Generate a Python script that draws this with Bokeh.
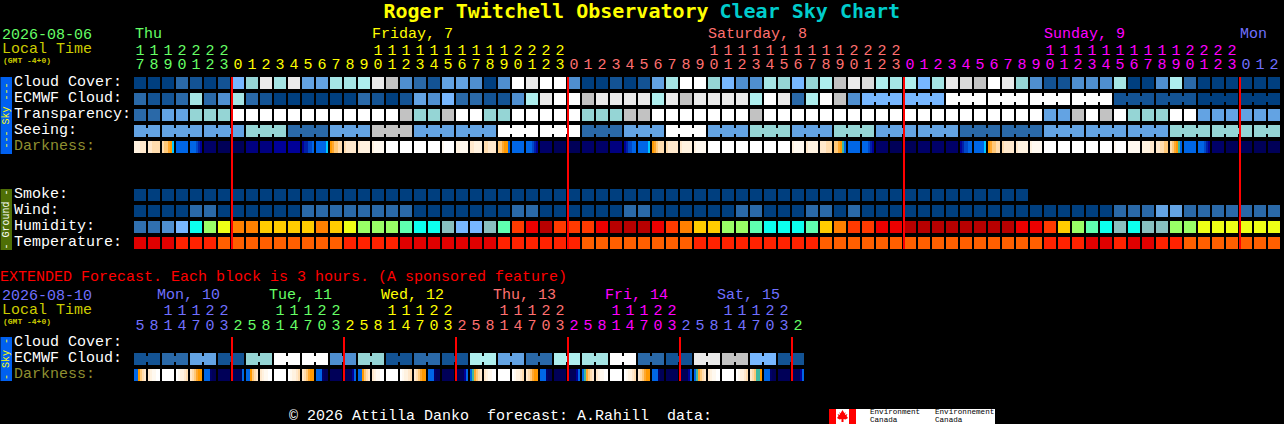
from bokeh.plotting import figure
from bokeh.models import ColumnDataSource
from bokeh.core.properties import value
from bokeh.embed import file_html
from bokeh.resources import INLINE
import math

# ---------- palettes ----------
CLOUD = ["#003f7f", "#135394", "#2a69a8", "#4f8fd0", "#63a3e3", "#77b7ff", "#95d5d5",
         "#a5e5e5", "#aeeeee", "#c2c2c2", "#dadada", "#eaeaea", "#ffffff"]
HUM = {"a": "#3070b0", "b": "#4f8fd0", "c": "#77b7ff", "t": "#88bfbf", "m": "#5fffb0", "y": "#0cffee",
       "l": "#99ff66", "g": "#eeff16", "o": "#ffcc00", "n": "#ff8000", "r": "#ff3a00", "e": "#ec0000",
       "d": "#b80000"}
TEMP = {"d": "#e00000", "r": "#ff2200", "o": "#ff5f00"}
WIND = ["#003f7f", "#2a69a8", "#63a3e3"]
DARK = {"W": "#ffffff", "A": "#fff9f0", "B": "#fff2e0", "C": "#ffe8cc", "D": "#ffdcae", "E": "#ffc878",
        "F": "#ffa82e", "G": "#ff9900", "H": "#00c8ff", "I": "#0066e6", "J": "#0048c8", "K": "#0020a8",
        "L": "#000098", "M": "#000080", "N": "#000068", "O": "#000058", "T": "#3fb8a0"}

# ---------- hourly forecast values (palette indices) ----------
cloud_cover = [0,0,0,2,1,0,1, 5,6,11,7,11,4,4,7,7,8,11,9,3,2,
               1,4,4,3,0,3,12,11,12,12, 3,0,0,1,0,1,4,7,12,12,6,5,3,3,7,6,5,6,8,9,11,
               10,8,7,8,5,7,11,10,9,12,11,6,3,1,1,3,3,3,7,0,0,3,8,2,0,0,0,0,0,0]
ecmwf_hourly = [2,1,1,2,7,2,3,7,2,1,0,0,0,0,0,0,2,1,0,1,4,
                3,5,2,2,1,1,3,8,11,12,12,9,11,11,11,11,8,11,9,11,11,11,11,8,12,11,2,8,12,9,3]
ecmwf_3h = [5,5,12,12,12,12,1,1,0,0]
transparency = [2,2,4,4,6,6,6,12,12,12,12,12,12,12,12,12,12,12,12,9,6,
                6,9,12,12,6,6,12,12,12,12,12,6,6,6,9,9,12,12,12,12,12,12,12,9,12,12,12,12,12,12,12,
                12,12,12,12,12,12,12,12,12,12,12,12,12,4,4,9,12,9,12,6,6,6,12,12,4,4,4,4,4,4]
seeing_blocks = [4,4,4,6,2,4,9,4,4,12,12,2,4,12,4,6,4,6,4,4,2,2,4,4,4,6,6,6]
seeing_sizes = [2,3,3,3,3,3,3,3,3,3,3,3,3,3,3,3,3,3,3,3,3,3,3,3,3,3,3,2]
darkness = ["BBBCCC","CCDDDD","DEEFGH","I","IIIJKL","N","O","O","M","M","L","L","LKKJJI","IIIIIH",
            "GFEEDD","DCCCCC","CBBBBB","BAAAAA","W","W","W","W","AWWWWW","BBAAAA","CCBBBB","DDCCCC",
            "EEFGGI","I","IIIJKL","N","O","O","N","N","M","LKJJII","IIIIIH","GFEDDD","DCCCCC","CBBBBB",
            "BAAAAA","W","W","W","W","W","W","BAAAAA","CBBBBB","CCCDDD","EEFGTI",
            "I","IIIJKL","N","O","O","N","N","N","LKJJII","IIIIIH","GFEEDD","DCCCCC","CBBBBB","BAAAAA",
            "W","W","W","W","W","AWWWWW","AAAAAA","BBBBCC","CCDDEE","DEFGTI","I","IIIJKL","N","O","O","O","O"]
smoke = [0]*64
wind = [0,0,0,0,1,1,0,0,0,0,0,0,1,1,1,1,1,1,1,1,0,0,
        0,0,0,0,0,1,1,0,0,0,0,0,0,1,1,0,0,0,0,0,0,1,1,0,0,0,1,1,0,1,
        0,0,0,0,0,0,0,0,0,0,0,0,0,0,0,0,0,0,1,1,1,2,2,1,1,1,1,1,1,1]
humidity = list("aabcylgnnoooonoglllmy" "ytcctmredrrreddderno" "ollmyyymonr"
                "reeddddddddeer" "olmytytt" "llgggggg")
temperature = list("dddrrrooooooooorrrrdd" "ddddd" "rrrrrr" "oooooooo" "rrrrrrrrr" "ooo"
                   "ooooooooooooo" "rrrddrddrr" "ooooooo")

# ---------- extended forecast values ----------
ext_ecmwf = [1,2,4,1,6,12,12,3,6,1,2,1,8,4,2,8,7,12,2,1,11,9,5,1]
ext_dark = ["IIGEDC","CBAAWW","W","WABBCD","CDEFGG","IIINOO","O","OOOOOI",
            "IIGEDC","CBAAWW","W","WABBCD","CDEFGG","IIINOO","O","OOOOLI",
            "IIGEDC","CBAAWW","W","WABBCD","CDEFGG","IIINOO","O","OOOOLI",
            "ITFEDC","CBAAWW","W","WABBCD","CDEFGG","IIINOO","O","OOOOLI",
            "ITFEDC","CBAAWW","W","WABBCD","CDEFGG","IIINOO","O","OOOOLI",
            "ITFEDC","CBAAWW","W","WABBCD","CDETTG","IIINOO","O","OOOOLI"]

# ---------- labels ----------
hours_main = [17,18,19,20,21,22,23] + [h for _ in range(3) for h in range(24)] + [0,1,2]
hours_ext = [5,8,11,14,17,20,23,2] * 6
hour_colour_main = ["#66ff66"]*7 + ["#ffff00"]*24 + ["#ff7070"]*24 + ["#ff00ff"]*24 + ["#7070ff"]*3
hour_colour_ext = ["#7070ff"]*7 + ["#66ff66"]*8 + ["#ffff00"]*8 + ["#ff7070"]*8 + ["#ff00ff"]*8 + ["#7070ff"]*8 + ["#66ff66"]
day_main = [("Thu", 135, "#66ff66"), ("Friday, 7", 372, "#ffff00"), ("Saturday, 8", 708, "#ff7070"),
            ("Sunday, 9", 1044, "#ff00ff"), ("Mon", 1240, "#7070ff")]
day_ext = [("Mon, 10", 157, "#7070ff"), ("Tue, 11", 269, "#66ff66"), ("Wed, 12", 381, "#ffff00"),
           ("Thu, 13", 493, "#ff7070"), ("Fri, 14", 605, "#ff00ff"), ("Sat, 15", 717, "#7070ff")]
labels_main = [("Cloud Cover:", 87, "#ffffff"), ("ECMWF Cloud:", 103, "#ffffff"), ("Transparency:", 119, "#ffffff"),
               ("Seeing:", 135, "#ffffff"), ("Darkness:", 151, "#8f8f30"), ("Smoke:", 199, "#ffffff"),
               ("Wind:", 215, "#ffffff"), ("Humidity:", 231, "#ffffff"), ("Temperature:", 247, "#ffffff"),
               ("Cloud Cover:", 347, "#ffffff"), ("ECMWF Cloud:", 363, "#ffffff"), ("Darkness:", 379, "#8f8f30")]
FONT = "Liberation Mono"

# ---------- layout ----------
X0, STEP, W = 134, 14, 12
ROW = {"cloud": 77, "ecmwf": 93, "transp": 109, "seeing": 125, "dark": 141,
       "smoke": 189, "wind": 205, "hum": 221, "temp": 237, "x_ecmwf": 353, "x_dark": 369}
BASE_SHIFT = 0.33  # the SVG text sits this fraction of its size below the requested baseline

# Bokeh draws with a half-pixel translation; the half-pixel ranges cancel it so blocks stay crisp.
p = figure(width=1284, height=424, x_range=(0.5, 1284.5), y_range=(424.5, 0.5), output_backend="svg",
           toolbar_location=None, min_border=0, background_fill_color="#000000",
           border_fill_color="#000000", outline_line_color=None, margin=0,
           styles={"background-color": "#000000"})
p.axis.visible = False
p.grid.visible = False


def boxes(items):
    # drawn as polygons: their corners are not snapped the way box glyphs' are
    xs = [[l, r, r, l] for l, r, t, b, c in items]
    ys = [[t, t, b, b] for l, r, t, b, c in items]
    p.patches(xs, ys, fill_color=[it[4] for it in items], line_color=None)


def cells(vals, y, colours):
    boxes([(X0 + STEP*i, X0 + STEP*i + W, y, y + W, colours[v]) for i, v in enumerate(vals)])


def groups(vals, sizes, y, colours, start=0):
    items, i = [], start
    for v, n in zip(vals, sizes):
        for k in range(n):
            x = X0 + STEP*(i + k)
            items.append((x, x + W, y, y + W, colours[v]))
            if k < n - 1:
                items.append((x + W, x + STEP, y + 3, y + W - 3, colours[v]))
        i += n
    boxes(items)


def strips(vals, y):
    items = []
    for i, s in enumerate(vals):
        x = X0 + STEP*i
        w = W / len(s)
        for k, ch in enumerate(s):
            # every strip runs to the cell's right edge, so later ones paint over it without seams
            items.append((x + k*w, x + W, y, y + W, DARK[ch]))
    boxes(items)


def texts(xs, ys, ts, colours, size=15, style="normal", align="left", angle=0.0, baseline="alphabetic", font=FONT):
    shift = BASE_SHIFT*size if baseline == "alphabetic" else 0
    src = ColumnDataSource(dict(x=list(xs), y=[v - shift for v in ys], t=list(ts), c=list(colours)))
    p.text("x", "y", text="t", text_color="c", source=src, text_font=value(font), text_font_size=value(f"{size}px"),
           text_font_style=style, text_align=align, text_baseline=baseline, angle=angle)


# rows
cells(cloud_cover, ROW["cloud"], CLOUD)
cells(ecmwf_hourly, ROW["ecmwf"], CLOUD)
groups(ecmwf_3h, [3]*len(ecmwf_3h), ROW["ecmwf"], CLOUD, start=len(ecmwf_hourly))
cells(transparency, ROW["transp"], CLOUD)
groups(seeing_blocks, seeing_sizes, ROW["seeing"], CLOUD)
strips(darkness, ROW["dark"])
cells(smoke, ROW["smoke"], CLOUD)
cells(wind, ROW["wind"], WIND)
cells(humidity, ROW["hum"], HUM)
cells(temperature, ROW["temp"], TEMP)
groups(ext_ecmwf, [2]*len(ext_ecmwf), ROW["x_ecmwf"], CLOUD)
strips(ext_dark, ROW["x_dark"])

# midnight markers
mid_main = [7, 31, 55, 79]
mid_ext = [7, 15, 23, 31, 39, 47]
boxes([(X0 + STEP*i - 1, X0 + STEP*i + 1, 77, 249, "#ff0000") for i in mid_main] +
      [(X0 + STEP*i - 1, X0 + STEP*i + 1, 337, 381, "#ff0000") for i in mid_ext])

# side bars
boxes([(0, 12, 77, 154, "#0060f0"), (0, 12, 189, 250, "#4f6f06"), (0, 12, 337, 381, "#0060f0")])
texts([6.5], [115.5], ["--- Sky ---"], ["#ffff00"], 10, align="center", angle=math.pi/2, baseline="middle")
texts([6.5], [219.5], ["- Ground -"], ["#ffffff"], 10, align="center", angle=math.pi/2, baseline="middle")
texts([6.5], [359], ["- Sky -"], ["#ffff00"], 10, align="center", angle=math.pi/2, baseline="middle")

# title
texts([383.5], [18], ["Roger Twitchell Observatory"], ["#ffff00"], 20, "bold", font="DejaVu Sans Mono")
texts([719.5], [18], ["Clear Sky Chart"], ["#00cccc"], 20, "bold", font="DejaVu Sans Mono")

# left headers
texts([2, 2], [39, 54.5], ["2026-08-06", "Local Time"], ["#66ff66", "#cccc00"])
texts([3], [63.5], ["(GMT -4+0)"], ["#cccc00"], 8, "bold")
texts([2, 2], [300, 315], ["2026-08-10", "Local Time"], ["#7070ff", "#cccc00"])
texts([3], [324], ["(GMT -4+0)"], ["#cccc00"], 8, "bold")
t, y, c = zip(*labels_main)
texts([14]*len(t), y, t, c)

# day names
t, x, c = zip(*day_main)
texts(x, [39]*len(t), t, c)
t, x, c = zip(*day_ext)
texts(x, [300]*len(t), t, c)


def hour_digits(hours, colours, y_tens, y_units):
    xs = [X0 + STEP*i + 6 for i in range(len(hours))]
    texts(xs, [y_units]*len(xs), [str(h % 10) for h in hours], colours, align="center")
    idx = [i for i, h in enumerate(hours) if h >= 10]
    texts([xs[i] for i in idx], [y_tens]*len(idx), [str(hours[i]//10) for i in idx],
          [colours[i] for i in idx], align="center")


hour_digits(hours_main, hour_colour_main, 54.5, 69)
hour_digits(hours_ext, hour_colour_ext, 315, 330)

# extended heading and footer
texts([0], [282], ["EXTENDED Forecast. Each block is 3 hours. (A sponsored feature)"], ["#ff0000"])
texts([289, 487, 667], [421, 421, 421], ["\u00a9 2026 Attilla Danko", "forecast: A.Rahill", "data:"], ["#ffffff"]*3)

# Environment Canada logo
boxes([(829, 995, 409, 424, "#ffffff"), (829, 836, 409, 424, "#ff0000"), (849, 856, 409, 424, "#ff0000")])
leaf_dx = [0, 1.5, 1.5, 3, 2.5, 5, 4, 5.5, 3, 1, 1, -1, -1, -3, -5.5, -4, -5, -2.5, -3, -1.5, -1.5]
leaf_dy = [-6, -3.5, -2.5, -4, -1, -2, 0, 2, 3.5, 3, 6, 6, 3, 3.5, 2, 0, -2, -1, -4, -2.5, -3.5]
p.patch([842.5 + d for d in leaf_dx], [416 + d for d in leaf_dy], fill_color="#ff0000", line_color=None)
texts([870, 935, 870, 935], [415, 415, 422.5, 422.5],
      ["Environment", "Environnement", "Canada", "Canada"], ["#000000"]*4, 7.6)

open("out.html", "w").write(file_html(p, INLINE))
